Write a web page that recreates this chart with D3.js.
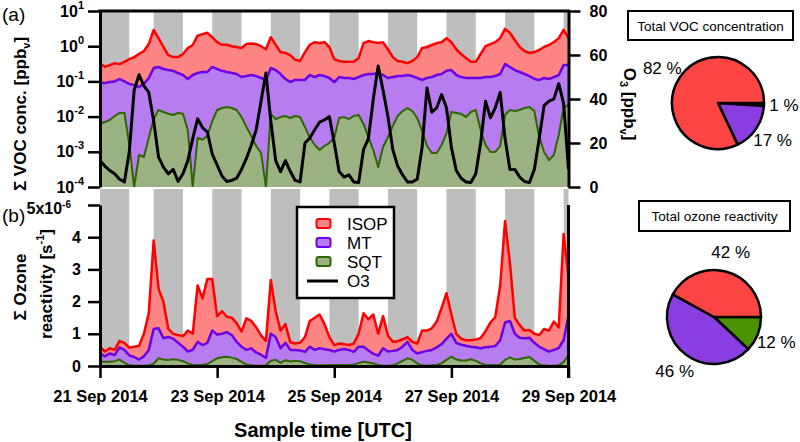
<!DOCTYPE html>
<html>
<head>
<meta charset="utf-8">
<script src="https://cdn.jsdelivr.net/npm/d3@7"></script>
<style>
  body { margin: 0; background: #fff; }
  text { font-family: "Liberation Sans", Arial, sans-serif; }
</style>
</head>
<body>
<script>
// hours since 21 Sep 2014 00:00 UTC (2 h steps)
var hours = [0,2,4,6,8,10,12,14,16,18,20,22,24,26,28,30,32,34,36,38,40,42,44,46,48,50,52,54,56,58,
  60,62,64,66,68,70,72,74,76,78,80,82,84,86,88,90,92,94,96,98,100,102,104,106,108,110,112,114,116,118,
  120,122,124,126,128,130,132,134,136,138,140,142,144,146,148,150,152,154,156,158,160,162,164,166,168,170,172,174,176,178,
  180,182,184,186,188,190,192]

// night shading (hours)
var nightStart = [0,22,46,70,94,118,142,166,190]
var nightEnd   = [12,34,58,82,106,130,154,178,192]

// (a) VOC concentration [ppbv]
var vocIsop = [0.32,0.26,0.29,0.33,0.31,0.36,0.43,0.49,0.60,0.73,
  1.15,2.9,1.7,0.95,0.56,0.49,0.49,0.60,0.89,1.08,
  2.0,2.2,2.4,1.8,1.3,1.1,1.1,1.0,0.95,0.89,
  1.15,1.2,1.15,1.0,0.82,1.8,1.1,0.68,0.64,0.56,
  0.41,0.38,0.68,1.1,1.3,1.23,1.3,0.95,0.43,0.38,
  0.36,0.36,0.36,0.46,1.23,1.4,1.3,1.23,1.3,0.82,
  0.49,0.38,0.36,0.33,0.38,0.49,0.89,0.95,1.08,1.23,
  1.3,1.7,1.3,0.82,0.6,0.46,0.36,0.36,0.6,1.0,
  1.15,1.3,1.7,3.1,2.4,1.5,0.95,0.73,0.64,0.68,
  0.78,0.95,1.08,1.3,1.7,2.9,1.7]
var vocMt = [0.090,0.090,0.096,0.100,0.117,0.100,0.085,0.079,0.069,0.085,
  0.125,0.240,0.257,0.225,0.210,0.200,0.173,0.152,0.117,0.152,
  0.173,0.185,0.185,0.257,0.225,0.200,0.185,0.173,0.162,0.133,
  0.142,0.152,0.142,0.125,0.110,0.240,0.210,0.162,0.117,0.096,
  0.110,0.110,0.110,0.152,0.133,0.152,0.142,0.125,0.096,0.133,
  0.125,0.125,0.117,0.133,0.152,0.162,0.162,0.173,0.152,0.125,
  0.133,0.142,0.142,0.152,0.142,0.125,0.110,0.125,0.133,0.152,
  0.162,0.200,0.210,0.152,0.133,0.125,0.125,0.125,0.125,0.133,
  0.133,0.142,0.162,0.310,0.257,0.210,0.185,0.162,0.142,0.117,
  0.110,0.125,0.117,0.133,0.152,0.290,0.290]
var vocSqt = [0.0062,0.0070,0.0080,0.0104,0.0127,0.0127,0.0016,0.0001,0.00081,0.00071,
  0.0025,0.0085,0.0154,0.0135,0.0120,0.0111,0.0127,0.0120,0.0041,0.0001,
  0.0025,0.0022,0.0028,0.0074,0.0154,0.0175,0.0187,0.0175,0.0154,0.0097,
  0.0051,0.0028,0.00146,0.00093,0.0001,0.0120,0.0085,0.0097,0.0104,0.0091,
  0.0104,0.0097,0.0051,0.0025,0.00156,0.00112,0.00146,0.0018,0.0025,0.0091,
  0.0097,0.0085,0.0104,0.0111,0.0062,0.0026,0.00112,0.00037,0.00137,0.0026,
  0.0054,0.0104,0.0144,0.0175,0.0144,0.0091,0.0039,0.00146,0.00093,0.00093,
  0.00156,0.0034,0.0135,0.0127,0.0120,0.0097,0.0135,0.0154,0.0041,0.00156,
  0.00099,0.00099,0.00146,0.0111,0.0154,0.0144,0.0154,0.0175,0.0187,0.0144,
  0.0026,0.00099,0.00058,0.00081,0.0030,0.0175,0.0214]
// O3 [ppbv]
var o3 = [12,9.5,7.5,6,3.5,2.3,16,44,51,46,
  43,30,13.6,9,6,8,2.5,6,12,22,
  31,27,25,15,10,5,2.5,3,4,8,
  13,19,26,39,51.8,30,12,7,12,7,
  3,2.3,20,22.3,26,29.5,30.5,32,20,7,
  4.5,5.5,2.3,2,17,22,40,55,44,32,
  17,9.5,5.5,2.3,2.3,3.5,18,45,34,36,
  42,36,18,7.5,4,2.3,2,6,20,39,
  31.4,36,43,22,8,8,4.5,2.5,2,8,
  22,37,39,40,47,38,8]

// (b) ozone reactivity [1e-6 s-1]
var reIsop = [0.6,0.45,0.55,0.5,0.78,0.72,0.57,0.6,0.62,1.0,
  1.65,3.9,2.4,2.0,1.15,1.0,0.96,0.93,1.1,1.0,
  2.5,2.1,2.7,2.7,1.55,1.7,1.53,1.5,1.33,1.07,
  1.48,1.4,1.2,0.95,0.78,2.67,1.7,1.1,1.3,0.74,
  0.7,0.72,0.9,1.4,1.5,1.6,1.3,0.9,0.65,0.7,
  0.68,0.65,0.7,1.0,1.64,1.45,1.6,1.0,1.55,0.95,
  0.75,0.77,0.83,0.9,0.75,0.7,1.1,1.1,1.17,1.38,
  1.8,2.26,1.6,1.0,0.85,0.8,0.8,0.82,0.87,1.08,
  1.35,1.52,2.5,4.5,3.2,1.5,1.27,1.1,1.12,1.0,
  0.96,1.15,1.1,1.38,1.2,4.1,2.75]
var reMt = [0.39,0.3,0.39,0.34,0.58,0.5,0.33,0.28,0.2,0.3,
  0.5,1.15,1.17,0.86,0.9,0.85,0.72,0.6,0.45,0.5,
  0.75,0.65,0.72,1.1,0.98,1.0,1.05,0.96,0.75,0.6,
  0.5,0.55,0.42,0.35,0.25,1.0,0.9,0.55,0.72,0.5,
  0.5,0.48,0.44,0.6,0.5,0.55,0.52,0.5,0.45,0.5,
  0.53,0.5,0.44,0.6,0.6,0.48,0.38,0.32,0.55,0.45,
  0.47,0.5,0.6,0.75,0.5,0.39,0.43,0.47,0.5,0.58,
  0.68,0.85,1.0,0.72,0.66,0.63,0.6,0.58,0.55,0.58,
  0.6,0.62,0.8,1.35,1.4,1.0,0.88,0.86,0.88,0.72,
  0.6,0.52,0.45,0.5,0.56,0.8,1.58]
var reSqt = [0.13,0.13,0.13,0.15,0.2,0.1,0.02,0.01,0.01,0.01,
  0.02,0.07,0.24,0.2,0.19,0.21,0.19,0.15,0.08,0.03,
  0.03,0.03,0.06,0.15,0.24,0.27,0.29,0.26,0.22,0.13,
  0.05,0.02,0.01,0.01,0.02,0.16,0.19,0.1,0.18,0.14,
  0.16,0.15,0.09,0.05,0.03,0.02,0.02,0.03,0.03,0.03,
  0.03,0.03,0.05,0.09,0.13,0.11,0.08,0.03,0.01,0.01,
  0.02,0.08,0.16,0.24,0.19,0.08,0.02,0.01,0.02,0.04,
  0.08,0.19,0.29,0.2,0.17,0.17,0.21,0.16,0.08,0.03,
  0.03,0.03,0.04,0.19,0.27,0.2,0.22,0.25,0.28,0.16,
  0.05,0.02,0.01,0.01,0.02,0.12,0.34]

// pies (order SQT, MT, ISOP clockwise from 3 o'clock)
var pieNames = ["SQT","MT","ISOP"]
var pieVoc = [1,17,82]
var pieOzone = [12,46,42]

var seriesNames = ["ISOP","MT","SQT"]
var fillCol = {ISOP:"#ff8585", MT:"#b67cf0", SQT:"#9bb283"}
var lineCol = {ISOP:"#ff0000", MT:"#6c00e6", SQT:"#2e6600"}
var pieCol = {ISOP:"#ff4444", MT:"#8a3de0", SQT:"#4b9400"}

var width = 800, height = 442
var svg = d3.select("body").append("svg").attr("width", width).attr("height", height)

var t0 = Date.UTC(2014, 8, 21)
function dt(h){ return new Date(t0 + h*3600*1000) }
var x = d3.scaleUtc().domain([dt(0), dt(192)]).range([100, 568.5])
var yTop = d3.scaleLog().domain([1e-4, 10]).range([187, 11])
var yO3 = d3.scaleLinear().domain([0, 80]).range([187, 11])
var yBot = d3.scaleLinear().domain([0, 5]).range([366, 205])

// night bands
nightStart.forEach(function(s, i){
  [[11,187],[189,366]].forEach(function(r){
    svg.append("rect")
      .attr("x", x(dt(s))).attr("width", x(dt(nightEnd[i])) - x(dt(s)))
      .attr("y", r[0]).attr("height", r[1]-r[0])
      .attr("fill", "#bebebe")
  })
})

svg.append("clipPath").attr("id","clipTop").append("rect")
  .attr("x",100).attr("y",11).attr("width",468.5).attr("height",176)
svg.append("clipPath").attr("id","clipBot").append("rect")
  .attr("x",100).attr("y",195).attr("width",468.5).attr("height",171)

var gTop = svg.append("g").attr("clip-path","url(#clipTop)")
var gBot = svg.append("g").attr("clip-path","url(#clipBot)")

function drawSeries(g, vals, name, y, base){
  var area = d3.area().x(function(d,i){ return x(dt(hours[i])) })
    .y0(y(base)).y1(function(d){ return y(d) })
  var line = d3.line().x(function(d,i){ return x(dt(hours[i])) }).y(function(d){ return y(d) })
  g.append("path").attr("d", area(vals)).attr("fill", fillCol[name])
  g.append("path").attr("d", line(vals)).attr("fill","none")
    .attr("stroke", lineCol[name]).attr("stroke-width", name=="SQT" ? 2 : 2.5)
    .attr("stroke-linejoin","round")
}

drawSeries(gTop, vocIsop, "ISOP", yTop, 1e-4)
drawSeries(gTop, vocMt, "MT", yTop, 1e-4)
drawSeries(gTop, vocSqt, "SQT", yTop, 1e-4)
gTop.append("path")
  .attr("d", d3.line().x(function(d,i){ return x(dt(hours[i])) }).y(function(d){ return yO3(d) })(o3))
  .attr("fill","none").attr("stroke","#000").attr("stroke-width",3).attr("stroke-linejoin","round")

drawSeries(gBot, reIsop, "ISOP", yBot, 0)
drawSeries(gBot, reMt, "MT", yBot, 0)
drawSeries(gBot, reSqt, "SQT", yBot, 0)

function styleAxis(g, fs){
  g.select(".domain").attr("stroke-width",3)
  g.selectAll(".tick line").attr("stroke-width",2.5)
  g.selectAll(".tick text").attr("font-size",fs).attr("font-weight","bold")
    .attr("font-family",'"Liberation Sans", Arial, sans-serif').attr("fill","#000")
}

// top left log axis
var axL = svg.append("g").attr("transform","translate(100,0)")
  .call(d3.axisLeft(yTop).tickValues([1e-4,1e-3,1e-2,1e-1,1,10]).tickSize(12).tickSizeOuter(0).tickPadding(4))
styleAxis(axL, 16)
axL.selectAll(".tick text").each(function(d){
  var t = d3.select(this).text(null)
  t.append("tspan").text("10")
  t.append("tspan").attr("dy",-8).attr("font-size",11).text(Math.round(Math.log10(d)))
})

// top right O3 axis
var axR = svg.append("g").attr("transform","translate(568.5,0)")
  .call(d3.axisRight(yO3).tickValues([0,20,40,60,80]).tickSize(12).tickSizeOuter(0).tickPadding(9))
styleAxis(axR, 16)

svg.append("line").attr("x1",98.5).attr("x2",570).attr("y1",11).attr("y2",11)
  .attr("stroke","#000").attr("stroke-width",3)

// bottom left axis
var axB = svg.append("g").attr("transform","translate(100,0)")
  .call(d3.axisLeft(yBot).tickValues([0,1,2,3,4,5]).tickFormat(d3.format("d"))
    .tickSize(12).tickSizeOuter(0).tickPadding(7))
styleAxis(axB, 16)
axB.selectAll(".tick text").filter(function(d){ return d==5 }).each(function(){
  var t = d3.select(this).text(null).attr("dx",-10).attr("dy","0.55em")
  t.append("tspan").text("5x10")
  t.append("tspan").attr("dy",-6).attr("font-size",10).text("-6")
})

// x axis
var axX = svg.append("g").attr("transform","translate(0,366)")
  .call(d3.axisBottom(x).ticks(d3.utcDay.every(2)).tickFormat(d3.utcFormat("%d %b %Y"))
    .tickSize(12).tickSizeOuter(0).tickPadding(12))
styleAxis(axX, 16.5)

svg.append("line").attr("x1",568.5).attr("x2",568.5).attr("y1",205).attr("y2",378)
  .attr("stroke","#000").attr("stroke-width",3)

// titles
svg.append("text").attr("x",2).attr("y",21).attr("font-size",19).text("(a)")
svg.append("text").attr("x",2).attr("y",222).attr("font-size",19).text("(b)")

var t1 = svg.append("text").attr("transform","translate(26,114) rotate(-90)")
  .attr("text-anchor","middle").attr("font-size",17).attr("font-weight","bold")
t1.append("tspan").text("Σ VOC conc. [ppb")
t1.append("tspan").attr("font-size",11).attr("dy",4).text("v")
t1.append("tspan").attr("dy",-4).text("]")

svg.append("text").attr("transform","translate(26,287) rotate(-90)")
  .attr("text-anchor","middle").attr("font-size",17).attr("font-weight","bold").text("Σ Ozone")
var t2 = svg.append("text").attr("transform","translate(52,284) rotate(-90)")
  .attr("text-anchor","middle").attr("font-size",17).attr("font-weight","bold")
t2.append("tspan").text("reactivity [s")
t2.append("tspan").attr("font-size",11).attr("dy",-8).text("-1")
t2.append("tspan").attr("dy",8).text("]")

var t3 = svg.append("text").attr("transform","translate(624,104) rotate(90)")
  .attr("text-anchor","middle").attr("font-size",17).attr("font-weight","bold")
t3.append("tspan").text("O")
t3.append("tspan").attr("font-size",11).attr("dy",4).text("3")
t3.append("tspan").attr("dy",-4).text(" [ppb")
t3.append("tspan").attr("font-size",11).attr("dy",4).text("v")
t3.append("tspan").attr("dy",-4).text("]")

svg.append("text").attr("x",323).attr("y",437).attr("text-anchor","middle")
  .attr("font-size",20).attr("font-weight","bold").text("Sample time [UTC]")

// legend
var lg = svg.append("g")
lg.append("rect").attr("x",297).attr("y",207).attr("width",97).attr("height",91)
  .attr("fill","#fff").attr("stroke","#000").attr("stroke-width",2.5)
seriesNames.forEach(function(n, i){
  var yy = 223.5 + i*19
  lg.append("rect").attr("x",316.5).attr("y",yy-4.5).attr("width",14).attr("height",9).attr("rx",2)
    .attr("fill",fillCol[n]).attr("stroke",lineCol[n]).attr("stroke-width",2)
  lg.append("text").attr("x",347).attr("y",yy+6).attr("font-size",17).text(n)
})
lg.append("line").attr("x1",307).attr("x2",338).attr("y1",281).attr("y2",281)
  .attr("stroke","#000").attr("stroke-width",3)
lg.append("text").attr("x",347).attr("y",287).attr("font-size",17).text("O3")

// pies
function drawPie(vals, cx, cy, r, title, box){
  svg.append("rect").attr("x",box[0]).attr("y",box[1]).attr("width",box[2]).attr("height",box[3])
    .attr("fill","#fff").attr("stroke","#000").attr("stroke-width",2)
  svg.append("text").attr("x",box[0]+box[2]/2).attr("y",box[1]+box[3]/2+5)
    .attr("text-anchor","middle").attr("font-size",13.5).text(title)
  var pie = d3.pie().sort(null).startAngle(Math.PI/2).endAngle(Math.PI/2 + 2*Math.PI)
  var arcs = pie(vals)
  var arc = d3.arc().innerRadius(0).outerRadius(r)
  var lab = d3.arc().innerRadius(r+20).outerRadius(r+20)
  var g = svg.append("g").attr("transform","translate("+cx+","+cy+")")
  g.selectAll("path").data(arcs).enter().append("path")
    .attr("d", arc).attr("fill", function(d,i){ return pieCol[pieNames[i]] })
    .attr("stroke","#000").attr("stroke-width",2.5).attr("stroke-linejoin","round")
  g.selectAll("text").data(arcs).enter().append("text")
    .attr("transform", function(d){ return "translate(" + lab.centroid(d) + ")" })
    .attr("text-anchor","middle").attr("dy","0.35em").attr("font-size",17)
    .text(function(d){ return d.data + " %" })
}
drawPie(pieVoc, 718, 103, 46, "Total VOC concentration", [628,11,165,29])
drawPie(pieOzone, 714, 317, 47, "Total ozone reactivity", [639,201,151,30])
</script>
</body>
</html>
